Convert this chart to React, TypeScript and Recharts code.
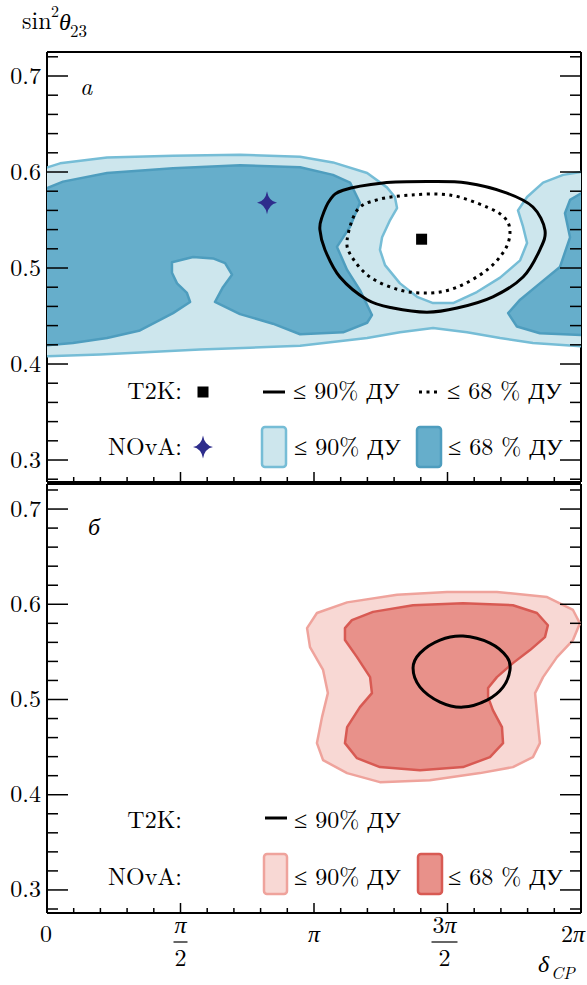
import React from 'react';
import { ComposedChart, Scatter, XAxis, YAxis } from 'recharts';

const FONT = '"Latin Modern Roman", "Liberation Serif", serif';
const CYR_FONT = '"Liberation Serif", "Latin Modern Roman", serif';

// ---- tick values (x in units of π) ----
const xMinorTicks = [0, 0.1, 0.2, 0.3, 0.4, 0.5, 0.6, 0.7, 0.8, 0.9, 1, 1.1, 1.2, 1.3, 1.4, 1.5, 1.6, 1.7, 1.8, 1.9, 2];
const xMajorTicks = [0, 0.5, 1, 1.5, 2];
const xTickNumerators = ['0', 'π', 'π', '3π', '2π'];
const xTickDenominators = ['', '2', '', '2', ''];
const yMinorTicks = [0.28, 0.3, 0.32, 0.34, 0.36, 0.38, 0.4, 0.42, 0.44, 0.46, 0.48, 0.5, 0.52, 0.54, 0.56, 0.58, 0.6, 0.62, 0.64, 0.66, 0.68, 0.7, 0.72];
const yMajorTicks = [0.3, 0.4, 0.5, 0.6, 0.7];
const yTickLabels = ['0.3', '0.4', '0.5', '0.6', '0.7'];

const topYDomain = [0.2771, 0.725];
const bottomYDomain = [0.2758, 0.7263];

// ---- panel (a): NOvA and T2K ----
const novaTop90 = [
  { x: -0.02, y: 0.603 }, { x: 0.049, y: 0.609 }, { x: 0.225, y: 0.615 }, { x: 0.472, y: 0.617 },
  { x: 0.723, y: 0.618 }, { x: 0.948, y: 0.616 }, { x: 1.071, y: 0.61 }, { x: 1.199, y: 0.599 },
  { x: 1.273, y: 0.584 }, { x: 1.303, y: 0.574 }, { x: 1.311, y: 0.5625 }, { x: 1.285, y: 0.55 },
  { x: 1.255, y: 0.532 }, { x: 1.247, y: 0.519 }, { x: 1.266, y: 0.503 }, { x: 1.322, y: 0.484 },
  { x: 1.386, y: 0.47 }, { x: 1.446, y: 0.4635 }, { x: 1.521, y: 0.4635 }, { x: 1.61, y: 0.475 },
  { x: 1.697, y: 0.49 }, { x: 1.772, y: 0.508 }, { x: 1.798, y: 0.526 }, { x: 1.783, y: 0.543 },
  { x: 1.764, y: 0.56 }, { x: 1.798, y: 0.574 }, { x: 1.858, y: 0.589 }, { x: 1.933, y: 0.597 },
  { x: 2.02, y: 0.601 }, { x: 2.02, y: 0.418 }, { x: 1.82, y: 0.422 }, { x: 1.697, y: 0.427 },
  { x: 1.573, y: 0.433 }, { x: 1.446, y: 0.4375 }, { x: 1.322, y: 0.433 }, { x: 1.199, y: 0.427 },
  { x: 0.948, y: 0.419 }, { x: 0.76, y: 0.417 }, { x: 0.573, y: 0.415 }, { x: 0.386, y: 0.4125 },
  { x: 0.199, y: 0.41 }, { x: -0.02, y: 0.408 },
];
const novaTop68Left = [
  { x: -0.02, y: 0.581 }, { x: 0.06, y: 0.59 }, { x: 0.225, y: 0.599 }, { x: 0.472, y: 0.604 },
  { x: 0.723, y: 0.607 }, { x: 0.948, y: 0.605 }, { x: 1.071, y: 0.597 }, { x: 1.135, y: 0.589 },
  { x: 1.172, y: 0.568 }, { x: 1.135, y: 0.543 }, { x: 1.086, y: 0.522 }, { x: 1.124, y: 0.498 },
  { x: 1.172, y: 0.477 }, { x: 1.217, y: 0.451 }, { x: 1.199, y: 0.443 }, { x: 1.109, y: 0.433 },
  { x: 0.948, y: 0.431 }, { x: 0.846, y: 0.442 }, { x: 0.723, y: 0.452 }, { x: 0.629, y: 0.4646 },
  { x: 0.659, y: 0.48 }, { x: 0.693, y: 0.493 }, { x: 0.667, y: 0.505 }, { x: 0.622, y: 0.51 },
  { x: 0.547, y: 0.5115 }, { x: 0.468, y: 0.506 }, { x: 0.468, y: 0.495 }, { x: 0.487, y: 0.484 },
  { x: 0.524, y: 0.474 }, { x: 0.536, y: 0.4646 }, { x: 0.472, y: 0.453 }, { x: 0.348, y: 0.435 },
  { x: 0.225, y: 0.427 }, { x: 0.097, y: 0.422 }, { x: -0.02, y: 0.419 },
];
const novaTop68Right = [
  { x: 2.02, y: 0.581 }, { x: 1.959, y: 0.571 }, { x: 1.94, y: 0.557 }, { x: 1.959, y: 0.532 },
  { x: 1.921, y: 0.501 }, { x: 1.846, y: 0.484 }, { x: 1.772, y: 0.467 }, { x: 1.727, y: 0.453 },
  { x: 1.76, y: 0.439 }, { x: 1.846, y: 0.432 }, { x: 2.02, y: 0.43 },
];
const t2kTop90 = [
  { x: 1.03, y: 0.553 }, { x: 1.06, y: 0.571 }, { x: 1.109, y: 0.581 }, { x: 1.258, y: 0.5885 },
  { x: 1.423, y: 0.59 }, { x: 1.573, y: 0.5885 }, { x: 1.723, y: 0.578 }, { x: 1.82, y: 0.5635 },
  { x: 1.865, y: 0.5396 }, { x: 1.846, y: 0.519 }, { x: 1.783, y: 0.4906 }, { x: 1.67, y: 0.47 },
  { x: 1.536, y: 0.4583 }, { x: 1.423, y: 0.454 }, { x: 1.296, y: 0.4583 }, { x: 1.199, y: 0.467 },
  { x: 1.097, y: 0.4906 }, { x: 1.041, y: 0.519 }, { x: 1.022, y: 0.54 },
];
const t2kTop68 = [
  { x: 1.124, y: 0.529 }, { x: 1.161, y: 0.56 }, { x: 1.236, y: 0.571 }, { x: 1.36, y: 0.576 },
  { x: 1.509, y: 0.576 }, { x: 1.648, y: 0.5635 }, { x: 1.715, y: 0.552 }, { x: 1.734, y: 0.5375 },
  { x: 1.715, y: 0.519 }, { x: 1.648, y: 0.498 }, { x: 1.536, y: 0.48 }, { x: 1.434, y: 0.474 },
  { x: 1.322, y: 0.477 }, { x: 1.21, y: 0.4906 }, { x: 1.142, y: 0.5115 },
];
const t2kBestFit = [{ x: 1.403, y: 0.53 }];
const novaBestFit = [{ x: 0.824, y: 0.568 }];

// ---- panel (б) ----
const novaBot90 = [
  { x: 0.974, y: 0.575 }, { x: 1.011, y: 0.5908 }, { x: 1.124, y: 0.602 }, { x: 1.311, y: 0.61 },
  { x: 1.498, y: 0.613 }, { x: 1.685, y: 0.613 }, { x: 1.873, y: 0.6076 }, { x: 1.97, y: 0.594 },
  { x: 1.996, y: 0.58 }, { x: 1.97, y: 0.5624 }, { x: 1.91, y: 0.5445 }, { x: 1.858, y: 0.5235 },
  { x: 1.828, y: 0.5067 }, { x: 1.835, y: 0.4857 }, { x: 1.846, y: 0.4542 }, { x: 1.82, y: 0.4395 },
  { x: 1.745, y: 0.429 }, { x: 1.622, y: 0.4227 }, { x: 1.434, y: 0.4153 }, { x: 1.247, y: 0.4132 },
  { x: 1.124, y: 0.4227 }, { x: 1.034, y: 0.4363 }, { x: 1.011, y: 0.4542 }, { x: 1.03, y: 0.4815 },
  { x: 1.052, y: 0.5067 }, { x: 1.034, y: 0.531 }, { x: 0.985, y: 0.555 },
];
const novaBot68 = [
  { x: 1.116, y: 0.575 }, { x: 1.142, y: 0.5834 }, { x: 1.221, y: 0.592 }, { x: 1.371, y: 0.599 },
  { x: 1.558, y: 0.601 }, { x: 1.745, y: 0.599 }, { x: 1.835, y: 0.5908 }, { x: 1.876, y: 0.578 },
  { x: 1.865, y: 0.5655 }, { x: 1.809, y: 0.5519 }, { x: 1.745, y: 0.5382 }, { x: 1.685, y: 0.5235 },
  { x: 1.652, y: 0.512 }, { x: 1.652, y: 0.5025 }, { x: 1.67, y: 0.4889 }, { x: 1.704, y: 0.471 },
  { x: 1.708, y: 0.4542 }, { x: 1.659, y: 0.4395 }, { x: 1.558, y: 0.429 }, { x: 1.397, y: 0.4258 },
  { x: 1.247, y: 0.429 }, { x: 1.161, y: 0.4384 }, { x: 1.116, y: 0.4542 }, { x: 1.124, y: 0.471 },
  { x: 1.172, y: 0.492 }, { x: 1.217, y: 0.5067 }, { x: 1.21, y: 0.5235 }, { x: 1.161, y: 0.5445 },
  { x: 1.116, y: 0.5624 },
];
const t2kBot90 = [
  { x: 1.371, y: 0.533 }, { x: 1.397, y: 0.5487 }, { x: 1.472, y: 0.5624 }, { x: 1.558, y: 0.5666 },
  { x: 1.659, y: 0.5592 }, { x: 1.723, y: 0.5445 }, { x: 1.734, y: 0.531 }, { x: 1.708, y: 0.513 },
  { x: 1.648, y: 0.4994 }, { x: 1.558, y: 0.492 }, { x: 1.472, y: 0.4973 }, { x: 1.397, y: 0.513 },
];

// ---- colours ----
const BLUE_LIGHT = '#cde6ed';
const BLUE_LIGHT_EDGE = '#76bdd6';
const BLUE_DARK = '#66aecb';
const BLUE_DARK_EDGE = '#4e9dbe';
const RED_LIGHT = '#f8d8d4';
const RED_LIGHT_EDGE = '#efa39c';
const RED_DARK = '#e8918a';
const RED_DARK_EDGE = '#d85a53';
const STAR = '#2e2d8c';

type Pt = { x: number; y: number };

function linearClosed(pts: Pt[]) {
  if (!pts.length) return '';
  return 'M' + pts.map((p) => `${p.x},${p.y}`).join('L') + 'Z';
}
function smoothClosed(pts: Pt[]) {
  const n = pts.length;
  if (n < 3) return '';
  let d = `M${pts[0].x},${pts[0].y}`;
  for (let i = 0; i < n; i++) {
    const p0 = pts[(i - 1 + n) % n];
    const p1 = pts[i];
    const p2 = pts[(i + 1) % n];
    const p3 = pts[(i + 2) % n];
    d += ` C${p1.x + (p2.x - p0.x) / 6},${p1.y + (p2.y - p0.y) / 6} ${p2.x - (p3.x - p1.x) / 6},${p2.y - (p3.y - p1.y) / 6} ${p2.x},${p2.y}`;
  }
  return d + 'Z';
}

const contour = (fill: string, stroke: string, sw: number, smooth = false, dash?: string) => (props: any) => {
  const pts: Pt[] = (props.points || []).filter((p: any) => p && p.x != null && p.y != null);
  return (
    <path
      d={smooth ? smoothClosed(pts) : linearClosed(pts)}
      fill={fill}
      stroke={stroke}
      strokeWidth={sw}
      strokeDasharray={dash}
      strokeLinejoin="round"
    />
  );
};

const noShape = () => <g />;
const squareShape = (p: any) => <rect x={p.cx - 5.5} y={p.cy - 5.5} width={11} height={11} fill="#000" />;
const starPath = (cx: number, cy: number, rx: number, ry: number) =>
  `M${cx},${cy - ry} Q${cx + 1.6},${cy - 1.6} ${cx + rx},${cy} Q${cx + 1.6},${cy + 1.6} ${cx},${cy + ry} Q${cx - 1.6},${cy + 1.6} ${cx - rx},${cy} Q${cx - 1.6},${cy - 1.6} ${cx},${cy - ry}Z`;
const starShape = (p: any) => <path d={starPath(p.cx, p.cy, 10, 11.5)} fill={STAR} />;

const majorIdx = (v: number, majors: number[]) => majors.findIndex((m) => Math.abs(m - v) < 1e-9);

const TICK_STROKE = { stroke: '#000', strokeWidth: 1.5 };
const FRAME = { stroke: '#000', strokeWidth: 2 };
const TXT_STYLE: React.CSSProperties = { fontFamily: FONT };
const IT_STYLE: React.CSSProperties = { fontFamily: FONT, fontStyle: 'italic' };
const CYR_STYLE: React.CSSProperties = { fontFamily: CYR_FONT };

const PiText = ({ s }: { s: string }) => (
  <>
    {s.replace('π', '') && <tspan>{s.replace('π', '')}</tspan>}
    {s.includes('π') && <tspan style={IT_STYLE}>π</tspan>}
  </>
);

const LeftTick = (props: any) => {
  const { x, y, payload } = props;
  const mi = majorIdx(payload.value, yMajorTicks);
  return (
    <g>
      <line x1={x} x2={x + (mi >= 0 ? 21 : 11)} y1={y} y2={y} {...TICK_STROKE} />
      {mi >= 0 && (
        <text x={x - 6} y={y + 7.5} textAnchor="end" fontSize={24} style={TXT_STYLE} fill="#000">
          {yTickLabels[mi]}
        </text>
      )}
    </g>
  );
};
const RightTick = (props: any) => {
  const { x, y, payload } = props;
  const mi = majorIdx(payload.value, yMajorTicks);
  return <line x1={x} x2={x - (mi >= 0 ? 21 : 11)} y1={y} y2={y} {...TICK_STROKE} />;
};
const TopTick = (props: any) => {
  const { x, y, payload } = props;
  const mi = majorIdx(payload.value, xMajorTicks);
  return <line x1={x} x2={x} y1={y} y2={y + (mi >= 0 ? 10 : 5)} {...TICK_STROKE} />;
};
const BottomInnerTick = (props: any) => {
  const { x, y, payload } = props;
  const mi = majorIdx(payload.value, xMajorTicks);
  return <line x1={x} x2={x} y1={y} y2={y - (mi >= 0 ? 10 : 5)} {...TICK_STROKE} />;
};
const BottomLabeledTick = (props: any) => {
  const { x, y, payload } = props;
  const mi = majorIdx(payload.value, xMajorTicks);
  let label: React.ReactNode = null;
  if (mi >= 0) {
    const num = xTickNumerators[mi];
    const den = xTickDenominators[mi];
    if (den) {
      const cx = num.length > 1 ? x - 3 : x;
      const w = num.length > 1 ? 26 : 14;
      label = (
        <g fill="#000">
          <text x={cx} y={y + 20} textAnchor="middle" fontSize={24} style={TXT_STYLE}><PiText s={num} /></text>
          <line x1={cx - w / 2} x2={cx + w / 2} y1={y + 29} y2={y + 29} stroke="#000" strokeWidth={1.2} />
          <text x={cx} y={y + 53} textAnchor="middle" fontSize={24} style={TXT_STYLE}>{den}</text>
        </g>
      );
    } else if (mi === xMajorTicks.length - 1) {
      label = (
        <text x={x + 4} y={y + 29} textAnchor="end" fontSize={24} style={TXT_STYLE} fill="#000"><PiText s={num} /></text>
      );
    } else {
      label = (
        <text x={mi === 0 ? x - 1 : x} y={y + 29} textAnchor="middle" fontSize={24} style={TXT_STYLE} fill="#000"><PiText s={num} /></text>
      );
    }
  }
  return (
    <g>
      <line x1={x} x2={x} y1={y} y2={y - (mi >= 0 ? 10 : 5)} {...TICK_STROKE} />
      {label}
    </g>
  );
};

function frameAxes(yDomain: number[], labeledBottom: boolean) {
  return [
    <XAxis
      key="xb"
      xAxisId="x"
      dataKey="x"
      type="number"
      domain={[0, 2]}
      allowDataOverflow
      orientation="bottom"
      mirror={!labeledBottom}
      height={labeledBottom ? 60 : 1}
      ticks={xMinorTicks}
      interval={0}
      tickSize={0}
      tickMargin={0}
      tickLine={false}
      tick={labeledBottom ? BottomLabeledTick : BottomInnerTick}
      axisLine={FRAME}
    />,
    <XAxis
      key="xt"
      xAxisId="xt"
      type="number"
      domain={[0, 2]}
      allowDataOverflow
      orientation="top"
      mirror
      height={1}
      ticks={xMinorTicks}
      interval={0}
      tickSize={0}
      tickMargin={0}
      tickLine={false}
      tick={TopTick}
      axisLine={FRAME}
    />,
    <YAxis
      key="yl"
      yAxisId="y"
      dataKey="y"
      type="number"
      domain={yDomain}
      allowDataOverflow
      width={47}
      ticks={yMinorTicks}
      interval={0}
      tickSize={0}
      tickMargin={0}
      tickLine={false}
      tick={LeftTick}
      axisLine={FRAME}
    />,
    <YAxis
      key="yr"
      yAxisId="yr"
      type="number"
      domain={yDomain}
      allowDataOverflow
      orientation="right"
      mirror
      width={1}
      ticks={yMinorTicks}
      interval={0}
      tickSize={0}
      tickMargin={0}
      tickLine={false}
      tick={RightTick}
      axisLine={FRAME}
    />,
  ];
}

const txt = { style: TXT_STYLE, fontSize: 24, fill: '#000' };
const itx = { style: IT_STYLE, fontSize: 24, fill: '#000' };

const LegendLabel = ({ x, y, pct }: { x: number; y: number; pct: string }) => (
  <text x={x} y={y} {...txt}>
    {`≤ ${pct} `}
    <tspan style={CYR_STYLE}>ДУ</tspan>
  </text>
);

export default function App() {
  return (
    <div style={{ position: 'absolute', left: 0, top: 0, width: 587, height: 985, background: '#fff', overflow: 'hidden', fontFamily: FONT }}>
      <div style={{ position: 'absolute', left: 0, top: 0 }}>
        <ComposedChart width={587} height={486} margin={{ top: 52, right: 6, bottom: 4, left: 0 }}>
          <Scatter data={novaTop90} xAxisId="x" yAxisId="y" isAnimationActive={false} shape={noShape} line={contour(BLUE_LIGHT, BLUE_LIGHT_EDGE, 2.5)} />
          <Scatter data={novaTop68Left} xAxisId="x" yAxisId="y" isAnimationActive={false} shape={noShape} line={contour(BLUE_DARK, BLUE_DARK_EDGE, 2.5)} />
          <Scatter data={novaTop68Right} xAxisId="x" yAxisId="y" isAnimationActive={false} shape={noShape} line={contour(BLUE_DARK, BLUE_DARK_EDGE, 2.5)} />
          <Scatter data={t2kTop90} xAxisId="x" yAxisId="y" isAnimationActive={false} shape={noShape} line={contour('none', '#000', 3, true)} />
          <Scatter data={t2kTop68} xAxisId="x" yAxisId="y" isAnimationActive={false} shape={noShape} line={contour('none', '#000', 3, true, '3 4.5')} />
          <Scatter data={t2kBestFit} xAxisId="x" yAxisId="y" isAnimationActive={false} shape={squareShape} />
          <Scatter data={novaBestFit} xAxisId="x" yAxisId="y" isAnimationActive={false} shape={starShape} />
          {frameAxes(topYDomain, false)}
        </ComposedChart>
      </div>
      <div style={{ position: 'absolute', left: 0, top: 470 }}>
        <ComposedChart width={587} height={515} margin={{ top: 14, right: 6, bottom: 12, left: 0 }}>
          <Scatter data={novaBot90} xAxisId="x" yAxisId="y" isAnimationActive={false} shape={noShape} line={contour(RED_LIGHT, RED_LIGHT_EDGE, 2.5)} />
          <Scatter data={novaBot68} xAxisId="x" yAxisId="y" isAnimationActive={false} shape={noShape} line={contour(RED_DARK, RED_DARK_EDGE, 2.5)} />
          <Scatter data={t2kBot90} xAxisId="x" yAxisId="y" isAnimationActive={false} shape={noShape} line={contour('none', '#000', 3, true)} />
          {frameAxes(bottomYDomain, true)}
        </ComposedChart>
      </div>
      <svg width={587} height={985} style={{ position: 'absolute', left: 0, top: 0, pointerEvents: 'none' }}>
        {/* axis titles */}
        <text x={22} y={29} {...txt}>sin</text>
        <text x={51} y={17} {...txt} fontSize={16}>2</text>
        <text x={59} y={30} {...itx}>θ</text>
        <text x={70} y={37} {...txt} fontSize={17}>23</text>
        <text x={538} y={972} {...itx}>δ</text>
        <text x={551} y={979} {...itx} fontSize={17}>CP</text>
        {/* panel labels */}
        <text x={80} y={95} {...itx}>a</text>
        <text x={88} y={535} fontSize={24} fill="#000" style={{ fontFamily: CYR_FONT, fontStyle: 'italic' }}>б</text>

        {/* legend (a) */}
        <text x={182} y={399} {...txt} textAnchor="end">T2K:</text>
        <rect x={197.5} y={386.5} width={11} height={11} fill="#000" />
        <line x1={263} x2={285} y1={392} y2={392} stroke="#000" strokeWidth={3} />
        <LegendLabel x={293} y={399} pct="90%" />
        <line x1={419} x2={438} y1={392} y2={392} stroke="#000" strokeWidth={3} strokeDasharray="3 4.5" />
        <LegendLabel x={447} y={399} pct="68 %" />
        <text x={182} y={455} {...txt} textAnchor="end">NOvA:</text>
        <path d={starPath(203, 447, 10, 11.5)} fill={STAR} />
        <rect x={262} y={427} width={24} height={40} rx={3} fill={BLUE_LIGHT} stroke={BLUE_LIGHT_EDGE} strokeWidth={2.5} />
        <LegendLabel x={294} y={455} pct="90%" />
        <rect x={417} y={427} width={24} height={40} rx={3} fill={BLUE_DARK} stroke={BLUE_DARK_EDGE} strokeWidth={2.5} />
        <LegendLabel x={448} y={455} pct="68 %" />

        {/* legend (б) */}
        <text x={182} y={828} {...txt} textAnchor="end">T2K:</text>
        <line x1={265} x2={287} y1={818} y2={818} stroke="#000" strokeWidth={3} />
        <LegendLabel x={294} y={828} pct="90%" />
        <text x={182} y={885} {...txt} textAnchor="end">NOvA:</text>
        <rect x={264} y={854} width={23} height={40} rx={3} fill={RED_LIGHT} stroke={RED_LIGHT_EDGE} strokeWidth={2.5} />
        <LegendLabel x={294} y={885} pct="90%" />
        <rect x={418} y={854} width={24} height={40} rx={3} fill={RED_DARK} stroke={RED_DARK_EDGE} strokeWidth={2.5} />
        <LegendLabel x={448} y={885} pct="68 %" />
      </svg>
    </div>
  );
}
